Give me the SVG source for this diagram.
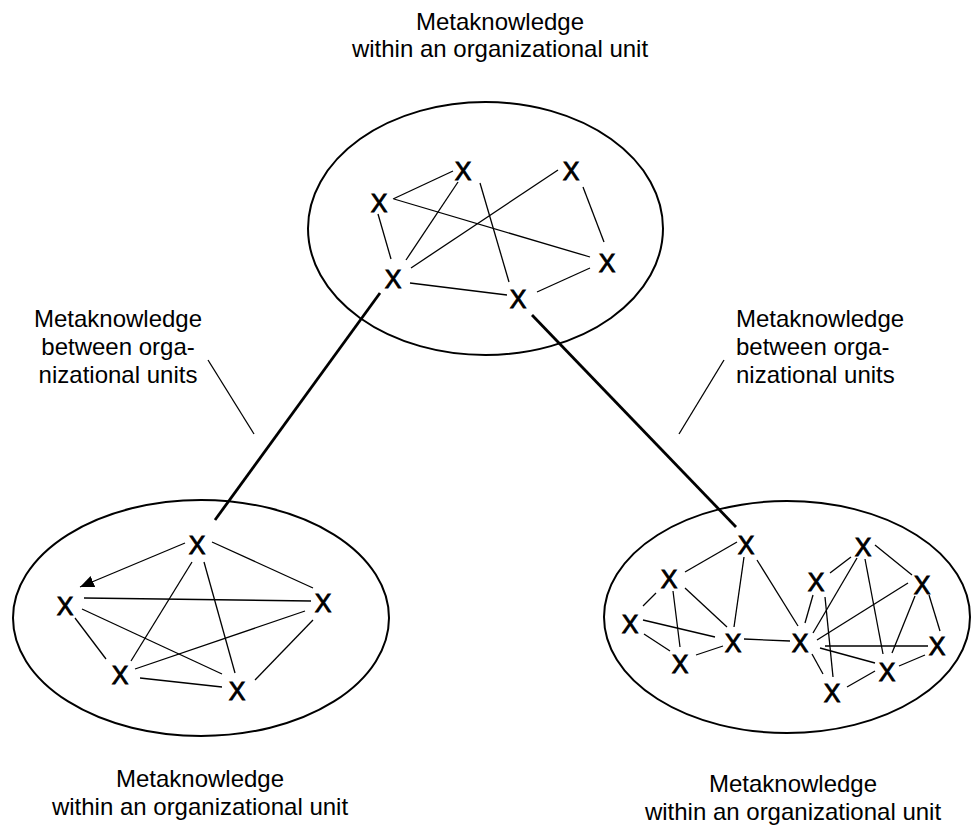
<svg xmlns="http://www.w3.org/2000/svg" width="972" height="827" viewBox="0 0 972 827">
  <style>
    .unit { fill: none; stroke: #000; stroke-width: 2; }
    .link { stroke: #000; stroke-width: 1.3; fill: none; }
    .bridge { stroke: #000; stroke-width: 2.8; fill: none; }
    .label { font-family: "Liberation Sans", Arial, sans-serif; font-size: 24px; fill: #000; }
    .mid { text-anchor: middle; }
    .node { font-family: "Liberation Sans", Arial, sans-serif; font-size: 25px; fill: #000; stroke: #000; stroke-width: 0.9; text-anchor: middle; }
  </style>
  <defs>
    <marker id="arrow" viewBox="0 0 14 12" refX="14" refY="6" markerWidth="14" markerHeight="12" markerUnits="userSpaceOnUse" orient="auto">
      <path d="M0,0 L14,6 L0,12 Z" fill="#000"/>
    </marker>
  </defs>

  <rect width="972" height="827" fill="#fff"/>

  <!-- organizational units -->
  <g id="unit-top"><ellipse class="unit" cx="485.5" cy="228.5" rx="177.5" ry="126.5"/></g>
  <g id="unit-left"><ellipse class="unit" cx="201" cy="618" rx="188" ry="118"/></g>
  <g id="unit-right"><ellipse class="unit" cx="787" cy="617" rx="183" ry="116"/></g>

  <!-- connectors -->
  <g id="connectors">
    <!-- top unit -->
    <line class="link" x1="393" y1="199" x2="453" y2="171"/>
    <line class="link" x1="378" y1="214" x2="391" y2="259"/>
    <line class="link" x1="394" y1="199" x2="590" y2="257"/>
    <line class="link" x1="458" y1="182" x2="406" y2="260"/>
    <line class="link" x1="480" y1="183" x2="509" y2="282"/>
    <line class="link" x1="558" y1="170" x2="411" y2="268"/>
    <line class="link" x1="583" y1="187" x2="604" y2="242"/>
    <line class="link" x1="410" y1="283" x2="507" y2="295"/>
    <line class="link" x1="537" y1="292" x2="590" y2="268"/>
    <!-- links between units -->
    <line class="bridge" x1="380" y1="293" x2="215" y2="520"/>
    <line class="bridge" x1="532" y1="315" x2="736" y2="527"/>
    <!-- label pointers -->
    <line class="link" x1="208" y1="360" x2="254" y2="434"/>
    <line class="link" x1="724" y1="360" x2="679" y2="434"/>
    <!-- left unit -->
    <line class="link" x1="185" y1="543" x2="80" y2="587" marker-end="url(#arrow)"/>
    <line class="link" x1="212" y1="542" x2="313" y2="588"/>
    <line class="link" x1="192" y1="562" x2="131" y2="661"/>
    <line class="link" x1="204" y1="562" x2="235" y2="673"/>
    <line class="link" x1="84" y1="598" x2="311" y2="601"/>
    <line class="link" x1="82" y1="609" x2="222" y2="674"/>
    <line class="link" x1="75" y1="618" x2="106" y2="659"/>
    <line class="link" x1="305" y1="611" x2="135" y2="669"/>
    <line class="link" x1="313" y1="620" x2="255" y2="680"/>
    <line class="link" x1="140" y1="678" x2="222" y2="687"/>
    <!-- right unit -->
    <line class="link" x1="685" y1="572" x2="737" y2="542"/>
    <line class="link" x1="643" y1="606" x2="656" y2="593"/>
    <line class="link" x1="643" y1="620" x2="715" y2="637"/>
    <line class="link" x1="644" y1="634" x2="670" y2="651"/>
    <line class="link" x1="673" y1="591" x2="680" y2="647"/>
    <line class="link" x1="685" y1="588" x2="727" y2="627"/>
    <line class="link" x1="744" y1="557" x2="734" y2="627"/>
    <line class="link" x1="757" y1="560" x2="798" y2="626"/>
    <line class="link" x1="696" y1="655" x2="723" y2="646"/>
    <line class="link" x1="744" y1="639" x2="790" y2="641"/>
    <line class="link" x1="813" y1="595" x2="805" y2="623"/>
    <line class="link" x1="830" y1="573" x2="851" y2="557"/>
    <line class="link" x1="825" y1="597" x2="833" y2="677"/>
    <line class="link" x1="857" y1="558" x2="813" y2="633"/>
    <line class="link" x1="865" y1="559" x2="883" y2="654"/>
    <line class="link" x1="875" y1="545" x2="912" y2="575"/>
    <line class="link" x1="908" y1="583" x2="817" y2="640"/>
    <line class="link" x1="915" y1="596" x2="892" y2="653"/>
    <line class="link" x1="929" y1="595" x2="940" y2="631"/>
    <line class="link" x1="825" y1="646" x2="928" y2="646"/>
    <line class="link" x1="820" y1="648" x2="875" y2="663"/>
    <line class="link" x1="812" y1="654" x2="823" y2="674"/>
    <line class="link" x1="847" y1="687" x2="875" y2="671"/>
    <line class="link" x1="899" y1="666" x2="925" y2="655"/>
  </g>

  <!-- knowledge holders: top unit -->
  <g id="t1"><text class="node" x="463" y="180">X</text></g>
  <g id="t2"><text class="node" x="571" y="180">X</text></g>
  <g id="t3"><text class="node" x="379" y="212">X</text></g>
  <g id="t4"><text class="node" x="607" y="272">X</text></g>
  <g id="t5"><text class="node" x="393" y="288">X</text></g>
  <g id="t6"><text class="node" x="518" y="308">X</text></g>

  <!-- knowledge holders: left unit -->
  <g id="l1"><text class="node" x="197" y="554">X</text></g>
  <g id="l2"><text class="node" x="65" y="615">X</text></g>
  <g id="l3"><text class="node" x="323" y="612">X</text></g>
  <g id="l4"><text class="node" x="120" y="684">X</text></g>
  <g id="l5"><text class="node" x="237" y="700">X</text></g>

  <!-- knowledge holders: right unit -->
  <g id="r-a"><text class="node" x="746" y="554">X</text></g>
  <g id="r-b"><text class="node" x="669" y="588">X</text></g>
  <g id="r-c"><text class="node" x="630" y="633">X</text></g>
  <g id="r-d"><text class="node" x="733" y="652">X</text></g>
  <g id="r-e"><text class="node" x="680" y="673">X</text></g>
  <g id="r-f"><text class="node" x="800" y="652">X</text></g>
  <g id="r-g"><text class="node" x="816" y="591">X</text></g>
  <g id="r-h"><text class="node" x="863" y="556">X</text></g>
  <g id="r-i"><text class="node" x="922" y="594">X</text></g>
  <g id="r-j"><text class="node" x="937" y="655">X</text></g>
  <g id="r-k"><text class="node" x="887" y="681">X</text></g>
  <g id="r-l"><text class="node" x="832" y="702">X</text></g>

  <!-- captions -->
  <g id="label-top">
    <text class="label mid" x="500" y="30">Metaknowledge</text>
    <text class="label mid" x="500" y="57">within an organizational unit</text>
  </g>
  <g id="label-between-left">
    <text class="label mid" x="118" y="327">Metaknowledge</text>
    <text class="label mid" x="118" y="355">between orga-</text>
    <text class="label mid" x="118" y="383">nizational units</text>
  </g>
  <g id="label-between-right">
    <text class="label" x="736" y="327">Metaknowledge</text>
    <text class="label" x="736" y="355">between orga-</text>
    <text class="label" x="736" y="383">nizational units</text>
  </g>
  <g id="label-left">
    <text class="label mid" x="200" y="787">Metaknowledge</text>
    <text class="label mid" x="200" y="815">within an organizational unit</text>
  </g>
  <g id="label-right">
    <text class="label mid" x="793" y="792">Metaknowledge</text>
    <text class="label mid" x="793" y="820">within an organizational unit</text>
  </g>
</svg>
